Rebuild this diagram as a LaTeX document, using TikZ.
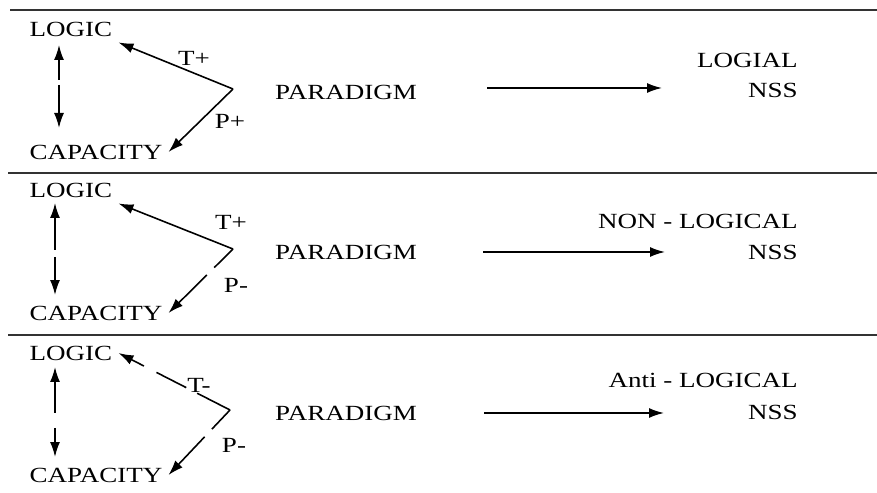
\documentclass[tikz,border=0pt]{standalone}
\usepackage{fontspec}
\setmainfont{Liberation Serif}[FakeStretch=1.25]
\usetikzlibrary{arrows.meta}

\begin{document}
\begin{tikzpicture}[
  x=0.02cm, y=-0.02cm,
  every node/.style={font=\fontsize{12.3}{14}\selectfont},
  word/.style={inner sep=0pt},
  arr/.style={line width=0.9pt,-{Latex[length=3mm,width=2mm]}},
  rule/.style={line width=0.8pt,black!80}
]
\useasboundingbox[fill=white] (0,0) rectangle (877,493);
% rules between the three cases
\draw[rule] (10,10) -- (877,10);
\draw[rule] (8,173) -- (877,173);
\draw[rule] (8,335) -- (877,335);

% case 1
\node (L1) at (71,29) {LOGIC};
\node (C1) at (96,152) {CAPACITY};
\coordinate (V1) at (233,89);
\coordinate (u1) at (59,45);
\coordinate (m1) at (59,80);
\coordinate (n1) at (59,85);
\coordinate (d1) at (59,128);
\draw[arr] (m1) -- (u1);
\draw[arr] (n1) -- (d1);
\draw[arr] (V1) -- (L1.south east);
\draw[arr] (V1) -- (C1.east);
\node[word] (T1) at (194,58) {T+};
\node[word] (P1) at (230,121) {P+};
\node[word] (D1) at (346,92) {PARADIGM};
\coordinate (a1) at (487,88);
\coordinate (b1) at (662,88);
\draw[arr] (a1) -- (b1);
\node[word,anchor=east] (R1) at (798,60) {LOGIAL};
\node[word,anchor=east] (N1) at (798,90) {NSS};

% case 2
\node (L2) at (71,190) {LOGIC};
\node (C2) at (96,313) {CAPACITY};
\coordinate (V2) at (233,249);
\coordinate (u2) at (55,203);
\coordinate (m2) at (55,250);
\coordinate (n2) at (55,257);
\coordinate (d2) at (55,295);
\draw[arr] (m2) -- (u2);
\draw[arr] (n2) -- (d2);
\draw[arr] (V2) -- (L2.south east);
\draw[arr,dash pattern=on 15pt off 6pt on 80pt] (V2) -- (C2.east);
\node[word] (T2) at (231,222) {T+};
\node[word] (P2) at (236,285) {P-};
\node[word] (D2) at (346,252) {PARADIGM};
\coordinate (a2) at (483,252);
\coordinate (b2) at (665,252);
\draw[arr] (a2) -- (b2);
\node[word,anchor=east] (R2) at (798,221) {NON - LOGICAL};
\node[word,anchor=east] (N2) at (798,252) {NSS};

% case 3
\node (L3) at (71,353) {LOGIC};
\node (C3) at (96,475) {CAPACITY};
\coordinate (V3) at (230,410);
\coordinate (u3) at (55,367);
\coordinate (m3) at (55,413);
\coordinate (n3) at (55,428);
\coordinate (d3) at (55,457);
\draw[arr] (m3) -- (u3);
\draw[arr] (n3) -- (d3);
\draw[arr,dash pattern=on 21pt off 7pt on 19pt off 8pt on 80pt] (V3) -- (L3.east);
\draw[arr,dash pattern=on 15pt off 6pt on 80pt] (V3) -- (C3.east);
\node[word] (T3) at (199,385) {T-};
\node[word] (P3) at (234,445) {P-};
\node[word] (D3) at (346,413) {PARADIGM};
\coordinate (a3) at (484,413);
\coordinate (b3) at (664,413);
\draw[arr] (a3) -- (b3);
\node[word,anchor=east] (R3) at (798,380) {Anti - LOGICAL};
\node[word,anchor=east] (N3) at (798,412) {NSS};
\end{tikzpicture}
\end{document}
